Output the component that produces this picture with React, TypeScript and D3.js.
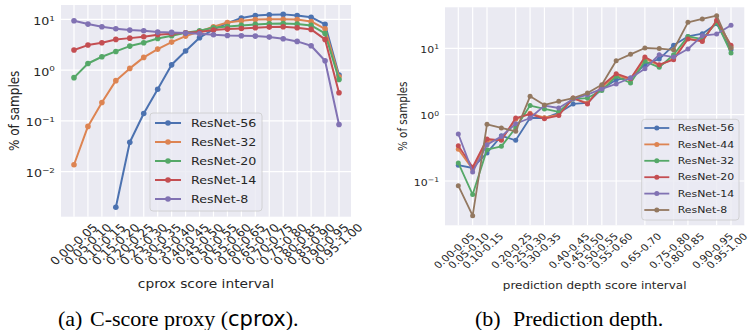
import React, { useEffect, useRef } from "react";
import * as d3 from "d3";

// cprox panel (left)
const cproxIntervals = [
  "0.00-0.05", "0.05-0.10", "0.10-0.15", "0.15-0.20", "0.20-0.25",
  "0.25-0.30", "0.30-0.35", "0.35-0.40", "0.40-0.45", "0.45-0.50",
  "0.50-0.55", "0.55-0.60", "0.60-0.65", "0.65-0.70", "0.70-0.75",
  "0.75-0.80", "0.80-0.85", "0.85-0.90", "0.90-0.95", "0.95-1.00",
];
const cproxResNet56 = [null, null, null, 0.002, 0.038, 0.14, 0.42, 1.27, 2.37, 4.33, 6.32, 8.41, 10.6, 11.9, 12.3, 12.5, 11.9, 11.0, 7.93, 0.8];
const cproxResNet32 = [0.0137, 0.078, 0.23, 0.62, 1.08, 1.78, 2.59, 3.56, 4.67, 5.77, 7.13, 8.67, 9.35, 9.94, 10.0, 10.0, 9.9, 9.08, 6.51, 0.74];
const cproxResNet20 = [0.71, 1.35, 1.83, 2.33, 2.97, 3.45, 4.2, 4.74, 5.43, 5.95, 6.81, 7.24, 7.58, 7.93, 8.17, 8.29, 8.05, 7.58, 5.27, 0.655];
const cproxResNet14 = [2.48, 3.11, 3.45, 4.02, 4.26, 4.53, 4.96, 5.19, 5.43, 5.6, 6.13, 6.41, 6.61, 6.81, 7.02, 7.13, 6.81, 6.32, 4.02, 0.358];
const cproxResNet8 = [9.35, 8.05, 7.13, 6.51, 6.13, 5.95, 5.6, 5.52, 5.35, 5.19, 4.96, 4.81, 4.74, 4.67, 4.46, 4.14, 3.67, 3.01, 1.53, 0.085];
const cproxYTicks = [1e1, 1e0, 1e-1, 1e-2];

// prediction depth panel (right)
const pdTickIndex = [0, 1, 2, 4, 5, 6, 8, 9, 10, 11, 13, 15, 16, 18, 19];
const pdTickLabels = [
  "0.00-0.05", "0.05-0.10", "0.10-0.15", "0.20-0.25", "0.25-0.30",
  "0.30-0.35", "0.40-0.45", "0.45-0.50", "0.50-0.55", "0.55-0.60",
  "0.65-0.70", "0.75-0.80", "0.80-0.85", "0.90-0.95", "0.95-1.00",
];
const pdResNet56 = [0.173, 0.157, 0.265, 0.48, 0.41, 0.89, 0.89, 1.06, 1.45, 1.5, 2.44, 3.37, 3.57, 5.66, 6.89, 11.1, 15.1, 16.6, 23.5, 9.5];
const pdResNet44 = [0.3, 0.15, 0.4, 0.42, 0.85, 1.05, 0.9, 1.0, 1.75, 1.5, 2.6, 3.9, 3.4, 7.0, 5.5, 7.0, 14.0, 13.0, 25.5, 10.5];
const pdResNet32 = [0.187, 0.0624, 0.297, 0.333, 0.63, 1.37, 1.22, 1.1, 1.72, 1.78, 2.32, 3.78, 3.0, 6.36, 5.16, 8.0, 15.1, 13.8, 24.6, 8.5];
const pdResNet20 = [0.34, 0.161, 0.43, 0.41, 0.89, 1.02, 0.87, 0.97, 1.78, 1.45, 2.73, 4.14, 3.49, 7.39, 5.66, 6.73, 13.8, 12.7, 26.4, 11.1];
const pdResNet14 = [0.51, 0.137, 0.353, 0.47, 0.73, 0.89, 1.37, 1.26, 1.72, 2.0, 2.44, 2.9, 3.57, 4.93, 8.0, 7.39, 9.75, 15.5, 16.4, 22.2];
const pdResNet8 = [0.085, 0.03, 0.715, 0.63, 0.56, 1.89, 1.4, 1.59, 1.78, 2.12, 2.83, 6.5, 8.1, 10.1, 9.9, 9.5, 24.6, 27.7, 31.0, 10.1];
const pdYTicks = [1e1, 1e0, 1e-1];

const palette = {
  blue: "#4C72B0", orange: "#DD8452", green: "#55A868",
  red: "#C44E52", purple: "#8172B3", brown: "#937860",
};

const FONT = "DejaVu Sans, sans-serif";
const SX = 1.15; // the figure looks stretched sideways

function drawPanel(svg, p) {
  const g = svg.append("g");
  const x = d3.scaleLinear().domain([0, 19]).range(p.xRange);
  const y = d3.scaleLog().domain(p.yDomain).range(p.yRange);

  g.append("rect")
    .attr("x", p.left).attr("y", p.top)
    .attr("width", p.right - p.left).attr("height", p.bottom - p.top)
    .attr("fill", "#EAEAF2");

  // grid
  p.tickIndex.forEach(i => {
    g.append("line")
      .attr("x1", x(i)).attr("x2", x(i)).attr("y1", p.top).attr("y2", p.bottom)
      .attr("stroke", "white").attr("stroke-width", 1.2);
  });
  p.yTicks.forEach(t => {
    g.append("line")
      .attr("x1", p.left).attr("x2", p.right).attr("y1", y(t)).attr("y2", y(t))
      .attr("stroke", "white").attr("stroke-width", 1.2);
  });

  // y tick labels
  p.yTicks.forEach(t => {
    const e = Math.round(Math.log10(t));
    const txt = g.append("text")
      .attr("transform", `translate(${p.left - 6},${y(t)}) scale(${SX},1)`)
      .attr("text-anchor", "end")
      .attr("font-family", FONT).attr("font-size", p.tickSize).attr("fill", "#262626");
    txt.append("tspan").attr("dy", "0.5em").text("10");
    txt.append("tspan").attr("dy", "-0.55em").attr("font-size", p.tickSize * 0.7)
      .text(e < 0 ? "\u2212" + Math.abs(e) : String(e));
  });

  // x tick labels, rotated
  const L = 4.813 * p.tickSize;
  const H = (L + p.tickSize) * Math.SQRT1_2;
  p.tickIndex.forEach((i, k) => {
    g.append("text")
      .attr("transform", `translate(${x(i) + p.labelShift},${p.bottom + p.labelPad + H / 2}) scale(${SX},1) rotate(-45)`)
      .attr("text-anchor", "middle").attr("dominant-baseline", "central")
      .attr("font-family", FONT).attr("font-size", p.tickSize).attr("fill", "#262626")
      .text(p.tickLabels[k]);
  });

  // axis labels
  g.append("text")
    .attr("transform", `translate(${(p.left + p.right) / 2},${p.xLabelY}) scale(${SX},1)`)
    .attr("text-anchor", "middle")
    .attr("font-family", FONT).attr("font-size", p.labelSize).attr("fill", "#262626")
    .text(p.xLabel);
  g.append("text")
    .attr("transform", `translate(${p.yLabelX},${(p.top + p.bottom) / 2}) scale(${SX},1) rotate(-90)`)
    .attr("text-anchor", "middle").attr("dominant-baseline", "central")
    .attr("font-family", FONT).attr("font-size", p.labelSize).attr("fill", "#262626")
    .text("% of samples");

  // series
  const clipId = p.id + "-clip";
  g.append("clipPath").attr("id", clipId).append("rect")
    .attr("x", p.left).attr("y", p.top)
    .attr("width", p.right - p.left).attr("height", p.bottom - p.top);
  const plot = g.append("g").attr("clip-path", `url(#${clipId})`);
  const line = d3.line()
    .defined(d => d != null)
    .x((d, i) => x(i))
    .y(d => y(d));

  p.series.forEach(s => {
    plot.append("path")
      .datum(s.values)
      .attr("fill", "none").attr("stroke", s.color)
      .attr("stroke-width", p.lineWidth).attr("stroke-linejoin", "round")
      .attr("d", line);
    s.values.forEach((v, i) => {
      if (v == null) return;
      plot.append("circle")
        .attr("cx", x(i)).attr("cy", y(v)).attr("r", p.markerR)
        .attr("fill", s.color);
    });
  });

  // legend
  const lg = p.legend;
  g.append("rect")
    .attr("x", lg.x).attr("y", lg.y).attr("width", lg.w).attr("height", lg.h)
    .attr("rx", 3)
    .attr("fill", "#EAEAF2").attr("fill-opacity", 0.8)
    .attr("stroke", "#CCCCCC").attr("stroke-width", 0.8);
  p.series.forEach((s, k) => {
    const yy = lg.y0 + k * lg.step;
    g.append("line")
      .attr("x1", lg.lineX).attr("x2", lg.lineX + lg.lineLen).attr("y1", yy).attr("y2", yy)
      .attr("stroke", s.color).attr("stroke-width", p.lineWidth);
    g.append("circle")
      .attr("cx", lg.lineX + lg.lineLen / 2).attr("cy", yy).attr("r", p.markerR)
      .attr("fill", s.color);
    g.append("text")
      .attr("transform", `translate(${lg.textX},${yy}) scale(${SX},1)`)
      .attr("dominant-baseline", "central")
      .attr("font-family", FONT).attr("font-size", p.legendSize).attr("fill", "#262626")
      .text(s.name);
  });
}

export default function App() {
  const svgRef = useRef(null);

  useEffect(() => {
    const svg = d3.select(svgRef.current);
    svg.selectAll("*").remove();

    drawPanel(svg, {
      id: "cprox",
      left: 61, right: 351, top: 5, bottom: 216.7,
      xRange: [74, 339],
      yDomain: [1e-2, 1e1], yRange: [171.7, 19.3],
      yTicks: cproxYTicks,
      tickIndex: d3.range(cproxIntervals.length),
      tickLabels: cproxIntervals,
      tickSize: 11, labelSize: 12, legendSize: 11,
      labelPad: 5, labelShift: 0,
      xLabel: "cprox score interval", xLabelY: 288,
      yLabelX: 14,
      lineWidth: 2, markerR: 2.8,
      series: [
        { name: "ResNet-56", values: cproxResNet56, color: palette.blue },
        { name: "ResNet-32", values: cproxResNet32, color: palette.orange },
        { name: "ResNet-20", values: cproxResNet20, color: palette.green },
        { name: "ResNet-14", values: cproxResNet14, color: palette.red },
        { name: "ResNet-8", values: cproxResNet8, color: palette.purple },
      ],
      legend: { x: 150, y: 113, w: 112, h: 98, y0: 123, step: 19, lineX: 155, lineLen: 26, textX: 191 },
    });

    drawPanel(svg, {
      id: "pd",
      left: 445, right: 744.3, top: 7.3, bottom: 225.3,
      xRange: [458.3, 731],
      yDomain: [1e-1, 1e1], yRange: [181, 48.3],
      yTicks: pdYTicks,
      tickIndex: pdTickIndex,
      tickLabels: pdTickLabels,
      tickSize: 9.5, labelSize: 10.4, legendSize: 9.5,
      labelPad: 6, labelShift: -4,
      xLabel: "prediction depth score interval", xLabelY: 289,
      yLabelX: 403,
      lineWidth: 1.8, markerR: 2.5,
      series: [
        { name: "ResNet-56", values: pdResNet56, color: palette.blue },
        { name: "ResNet-44", values: pdResNet44, color: palette.orange },
        { name: "ResNet-32", values: pdResNet32, color: palette.green },
        { name: "ResNet-20", values: pdResNet20, color: palette.red },
        { name: "ResNet-14", values: pdResNet14, color: palette.purple },
        { name: "ResNet-8", values: pdResNet8, color: palette.brown },
      ],
      legend: { x: 641.7, y: 119.3, w: 97.3, h: 100.7, y0: 128, step: 16.4, lineX: 644.3, lineLen: 25, textX: 677.7 },
    });

    // captions
    const serif = "Liberation Serif, Times New Roman, serif";
    const capA = svg.append("text").attr("y", 326).attr("font-family", serif).attr("font-size", 22).attr("fill", "black");
    capA.append("tspan").attr("x", 58).text("(a)");
    capA.append("tspan").attr("x", 90).text("C-score proxy (");
    capA.append("tspan").attr("font-family", FONT).attr("font-size", 21).text("cprox");
    capA.append("tspan").text(").");

    const capB = svg.append("text").attr("y", 326).attr("font-family", serif).attr("font-size", 22).attr("fill", "black");
    capB.append("tspan").attr("x", 475).text("(b)");
    capB.append("tspan").attr("x", 513).text("Prediction depth.");
  }, []);

  return (
    <svg
      ref={svgRef}
      width={751}
      height={330}
      style={{ position: "absolute", left: 0, top: 0, background: "white" }}
    />
  );
}
